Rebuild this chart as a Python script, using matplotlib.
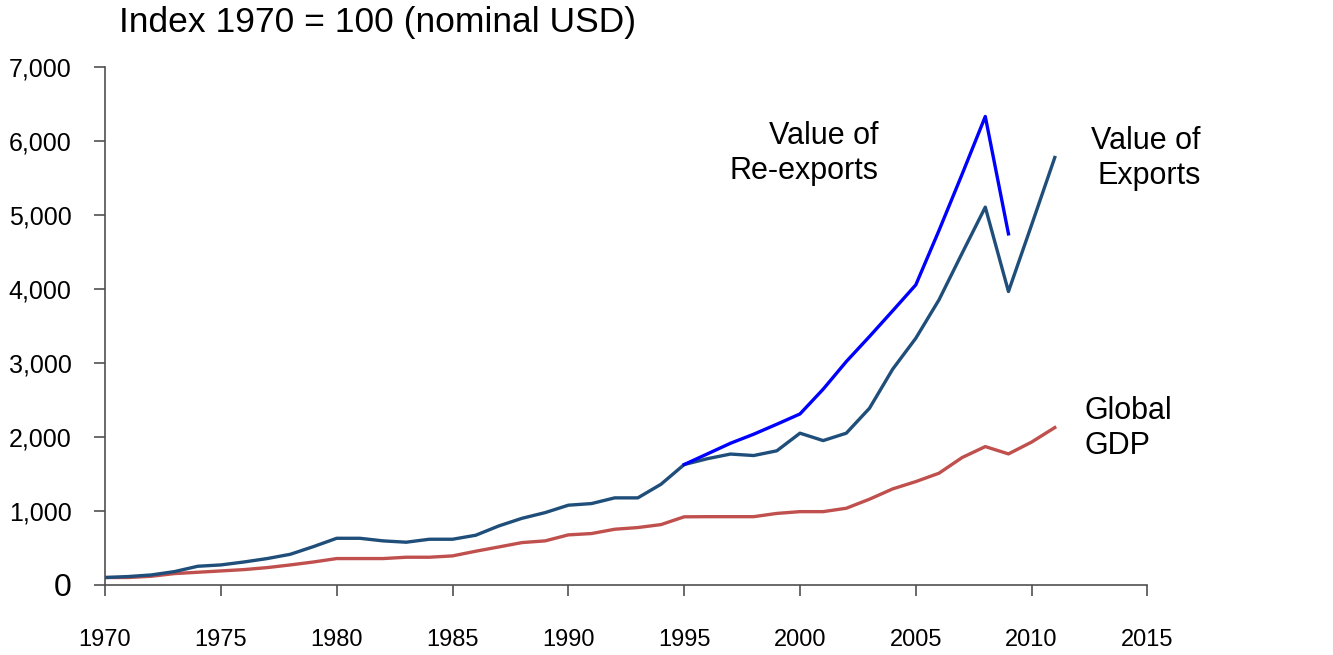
"""
Export, re-export and GDP index chart (1970 = 100)
"""
import matplotlib
matplotlib.use("Agg")
import matplotlib.pyplot as plt
from matplotlib.ticker import FuncFormatter

plt.rcParams['font.family'] = ['Liberation Sans', 'DejaVu Sans']

years = list(range(1970, 2012))

exports = [100, 113, 135, 180, 252, 270, 310, 356, 414, 518,
           630, 630, 595, 577, 617, 617, 671, 797, 900, 977,
           1077, 1099, 1176, 1176, 1360, 1626, 1705, 1768, 1748, 1812,
           2050, 1950, 2050, 2387, 2914, 3333, 3851, 4482, 5104, 3964,
           4865, 5775]

reexport_years = list(range(1995, 2010))
reexports = [1626, 1770, 1914, 2036, 2171, 2310, 2644, 3018, 3356, 3703,
             4054, 4788, 5550, 6329, 4743]

gdp = [100, 100, 117, 153, 171, 189, 207, 234, 270, 310,
       356, 356, 356, 374, 374, 392, 455, 513, 572, 595,
       676, 694, 752, 775, 815, 920, 922, 922, 922, 966,
       990, 990, 1036, 1158, 1297, 1396, 1509, 1721, 1869, 1770,
       1930, 2126]

fig = plt.figure(figsize=(13.33, 6.55), dpi=100)
ax = fig.add_axes([0.0788, 0.107, 0.782, 0.791])

ax.plot(years, gdp, color="#C0504D", lw=2.4)
ax.plot(years, exports, color="#1F4E7A", lw=2.4)
ax.plot(reexport_years, reexports, color="#0000FF", lw=2.4)

ax.set_xlim(1970, 2015)
ax.set_ylim(0, 7000)
ax.set_xticks(range(1970, 2016, 5))
ax.set_yticks(range(0, 7001, 1000))
ax.yaxis.set_major_formatter(FuncFormatter(lambda v, p: f"{int(v):,}"))

for side in ("top", "right"):
    ax.spines[side].set_visible(False)
for side in ("left", "bottom"):
    ax.spines[side].set_color("#505050")
    ax.spines[side].set_linewidth(1.2)

ax.tick_params(axis="both", direction="out", length=8, width=1.2,
               color="#505050", labelsize=17)
ax.tick_params(axis="y", pad=16, labelsize=18)
ax.tick_params(axis="x", pad=24)

# the zero label is drawn larger than the others in the original
ax.get_yticklabels()[0].set_fontsize(23)

fig.text(0.089, 0.966, "Index 1970 = 100 (nominal USD)", fontsize=25.5,
         ha="left", va="center")

ax.text(2003.4, 5830, "Value of\nRe-exports", fontsize=22, ha="right",
        va="center", linespacing=1.2)
ax.text(2017.3, 5765, "Value of\nExports", fontsize=22, ha="right",
        va="center", linespacing=1.2, clip_on=False)
ax.text(2012.3, 2115, "Global\nGDP", fontsize=22, ha="left",
        va="center", linespacing=1.2)

fig.savefig("out.png", dpi=100)
